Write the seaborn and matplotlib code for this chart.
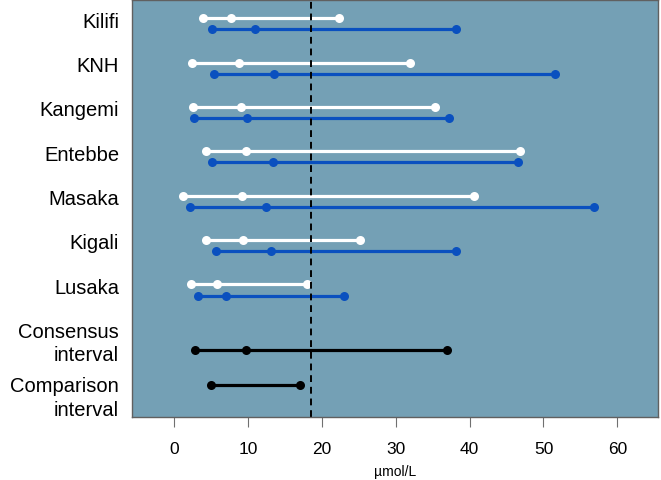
import pandas as pd
import seaborn as sns
import matplotlib.pyplot as plt

# Sites and their intervals (lower, middle, upper) in umol/L
sites = ['Kilifi', 'KNH', 'Kangemi', 'Entebbe', 'Masaka', 'Kigali', 'Lusaka']
white_low = [3.9, 2.4, 2.6, 4.3, 1.2, 4.3, 2.3]
white_mid = [7.7, 8.8, 9.0, 9.8, 9.2, 9.3, 5.8]
white_high = [22.3, 31.9, 35.3, 46.8, 40.6, 25.2, 18.0]
blue_low = [5.2, 5.4, 2.7, 5.2, 2.1, 5.7, 3.3]
blue_mid = [11.0, 13.5, 9.9, 13.4, 12.5, 13.1, 7.1]
blue_high = [38.2, 51.5, 37.2, 46.5, 56.9, 38.2, 23.0]
consensus = [2.9, 9.8, 37.0]
comparison = [5.05, 17.0]
cutoff = 18.5

# build long table, one unit per horizontal segment
rows = []
for i, s in enumerate(sites):
    yc = i + 1
    for v in (white_low[i], white_mid[i], white_high[i]):
        rows.append(dict(unit=f'{s}_w', series='white', x=v, y=yc - 0.126))
    for v in (blue_low[i], blue_mid[i], blue_high[i]):
        rows.append(dict(unit=f'{s}_b', series='blue', x=v, y=yc + 0.126))
for v in consensus:
    rows.append(dict(unit='consensus', series='black', x=v, y=8.36))
for v in comparison:
    rows.append(dict(unit='comparison', series='black', x=v, y=9.15))
df = pd.DataFrame(rows)

sns.set_style('ticks')
plt.rcParams['font.family'] = ['Liberation Sans', 'DejaVu Sans']
plt.rcParams['text.color'] = 'black'
plt.rcParams['xtick.labelcolor'] = 'black'
plt.rcParams['axes.labelcolor'] = 'black'

fig = plt.figure(figsize=(6.61, 4.81), dpi=100)
ax = fig.add_axes([0.2002, 0.131, 0.7953, 0.8659])
ax.set_facecolor('#74a0b5')

palette = {'white': 'white', 'blue': '#0a50bf', 'black': 'black'}
sns.lineplot(data=df, x='x', y='y', hue='series', units='unit', estimator=None,
             palette=palette, marker='o', markersize=6.5, markeredgewidth=0,
             linewidth=2.3, legend=False, ax=ax)

ax.axvline(cutoff, color='black', linestyle=(0, (3.5, 2.5)), linewidth=1.4)

ax.set_xlim(-5.64, 65.5)
ax.set_ylim(9.86, 0.477)
ax.set_xticks(range(0, 70, 10))
ax.tick_params(axis='x', labelsize=12.5, length=7, width=0.8, color='#707070', pad=10)
ax.set_yticks([])
ax.set_ylabel('')
ax.set_xlabel('µmol/L', fontsize=10, labelpad=6)
for sp in ax.spines.values():
    sp.set_color('#606060')
    sp.set_linewidth(1.0)

# row labels outside the axes on the left
label_text = sites + ['Consensus\ninterval', 'Comparison\ninterval']
label_y = [0.94, 1.94, 2.94, 3.94, 4.94, 5.94, 6.94, 8.2, 9.42]
for t, yv in zip(label_text, label_y):
    ax.text(-0.025, yv, t, transform=ax.get_yaxis_transform(), ha='right',
            va='center', multialignment='right', fontsize=14.5, linespacing=1.28)

fig.savefig('out.png', dpi=100)
